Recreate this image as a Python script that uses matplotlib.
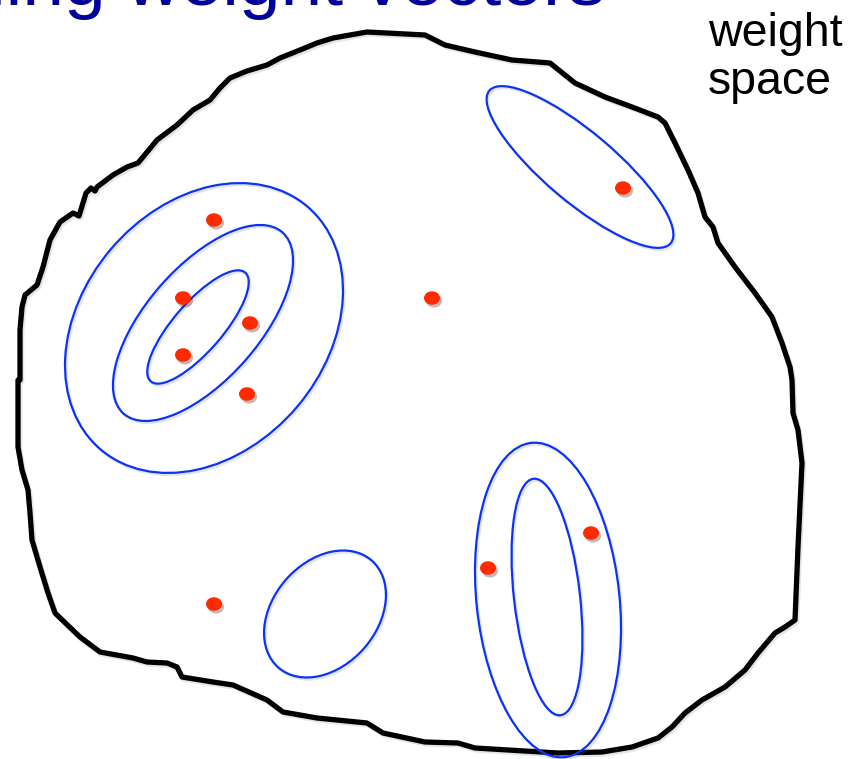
import matplotlib
matplotlib.use("Agg")
import matplotlib.pyplot as plt
from matplotlib.patches import Ellipse, Polygon
import matplotlib.patheffects as pe

# outline of the weight-space blob (pixel coords, y down)
blob_x = [20, 20, 22, 25, 37, 43, 50, 60, 73, 79, 86, 91, 95, 97, 113, 127, 138, 143,
          157, 177, 193, 210, 220, 230, 247, 267, 280, 300, 317, 333, 367, 425,
          445, 475, 512, 550, 565, 575, 605, 632, 658, 665, 675, 688, 698, 705, 713,
          718, 735, 755, 772, 782, 790, 792, 793, 798, 802, 798, 795, 785, 775, 758,
          745, 725, 702, 685, 672, 658, 632, 602, 558, 475, 458, 425, 383, 367, 317,
          283, 267, 233, 213, 182, 177, 167, 147, 133, 100, 80, 55, 48, 40, 32, 30,
          28, 22, 18, 18]
blob_y = [380, 330, 307, 295, 285, 267, 240, 222, 213, 216, 193, 188, 191, 187, 175, 167, 163, 157,
          140, 125, 110, 100, 88, 78, 71, 65, 58, 50, 43, 38, 32, 35,
          45, 52, 60, 63, 75, 83, 97, 107, 117, 123, 143, 170, 193, 217, 227,
          243, 267, 293, 317, 343, 367, 380, 413, 430, 463, 547, 620, 627, 633, 653,
          670, 687, 700, 713, 727, 738, 747, 752, 753, 748, 743, 742, 733, 723, 718,
          712, 700, 685, 682, 677, 667, 663, 662, 658, 652, 637, 613, 593, 567, 540, 513,
          490, 470, 447, 380]

# blue contour ellipses: centre, full axes, rotation (deg, y-down coords)
ell_cx = [204, 203, 198, 580, 325, 548, 547]
ell_cy = [328, 323, 327, 167, 614, 600, 597]
ell_w = [319, 241, 144, 237, 142, 316, 238]
ell_h = [244, 113, 49, 70, 104, 143, 66]
ell_angle = [-49.6, -48.8, -49.0, 40.1, -48.9, 84.0, 83.5]

# sampled weight vectors (red dots)
dot_x = [214, 183, 250, 183, 247, 432, 623, 214, 488, 591]
dot_y = [220, 298, 323, 355, 394, 298, 188, 604, 568, 533]

fig = plt.figure(figsize=(8.5, 7.59), dpi=100)
ax = fig.add_axes([0, 0, 1, 1])
ax.set_xlim(0, 850)
ax.set_ylim(759, 0)
ax.axis("off")

line_shadow = [pe.SimpleLineShadow(offset=(1.2, -1.5), alpha=0.2, shadow_color="gray"),
               pe.Normal()]

blob = Polygon(list(zip(blob_x, blob_y)), closed=True, fill=False, edgecolor="black",
               linewidth=3.8, joinstyle="round")
blob.set_path_effects(line_shadow)
ax.add_patch(blob)

for cx, cy, w, h, ang in zip(ell_cx, ell_cy, ell_w, ell_h, ell_angle):
    e = Ellipse((cx, cy), w, h, angle=ang, fill=False, edgecolor="#0A33F5", linewidth=1.6)
    e.set_path_effects(line_shadow)
    ax.add_patch(e)

for x, y in zip(dot_x, dot_y):
    d = Ellipse((x, y), 16, 13.5, facecolor="#FF2A00", edgecolor="none")
    d.set_path_effects([pe.SimplePatchShadow(offset=(1.5, -2), alpha=0.3), pe.Normal()])
    ax.add_patch(d)

# title (cut off by the top edge in the original slide)
ax.text(606, 5, "Sampling weight vectors", ha="right", va="baseline",
        fontsize=54, color="#00009A", family="Liberation Sans")

ax.text(708, 46, "weight", ha="left", va="baseline", fontsize=33.5,
        color="black", family="Liberation Sans")
ax.text(708, 94, "space", ha="left", va="baseline", fontsize=33.5,
        color="black", family="Liberation Sans")

fig.savefig("out.png", dpi=100)
